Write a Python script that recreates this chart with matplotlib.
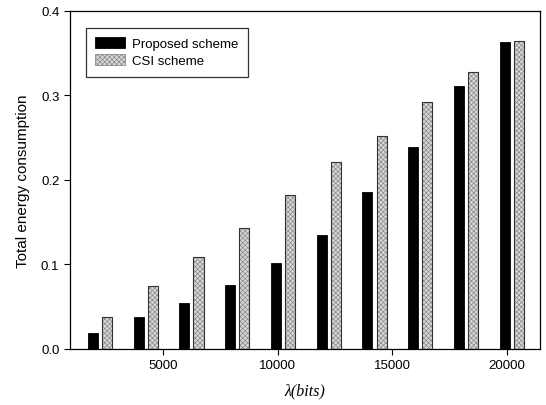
import matplotlib
matplotlib.use("Agg")
import matplotlib.pyplot as plt
import numpy as np

plt.rcParams['font.family'] = ['Liberation Sans', 'DejaVu Sans']
plt.rcParams['hatch.linewidth'] = 0.5

lam = [2000, 4000, 6000, 8000, 10000, 12000, 14000, 16000, 18000, 20000]
proposed = [0.0185, 0.0374, 0.0547, 0.0755, 0.1019, 0.1349, 0.1856, 0.2391, 0.3115, 0.3626]
csi = [0.0374, 0.0743, 0.1090, 0.1432, 0.1817, 0.2206, 0.2521, 0.2926, 0.3272, 0.3638]
series_names = ["Proposed scheme", "CSI scheme"]
xticks = [5000, 10000, 15000, 20000]
yticks = [0.0, 0.1, 0.2, 0.3, 0.4]

fig = plt.figure(figsize=(5.46, 4.06), dpi=100)
ax = fig.add_axes([0.128, 0.138, 0.861, 0.833])

x = np.array(lam, dtype=float)
w = 440
ax.bar(x - 80, proposed, width=w, color='black', edgecolor='black', linewidth=0.6,
       label=series_names[0])
ax.bar(x + 540, csi, width=w, color='#d8d8d8', edgecolor='#8a8a8a', hatch='xxxxxxx',
       linewidth=0.6, label=series_names[1])
ax.bar(x + 540, csi, width=w, fill=False, edgecolor='#333333', linewidth=0.8)

ax.set_xlim(920, 21460)
ax.set_ylim(0, 0.4)
ax.set_xticks(xticks)
ax.set_xticklabels([str(t) for t in xticks], fontsize=9.5)
ax.set_yticks(yticks)
ax.set_yticklabels([f"{t:.1f}" for t in yticks], fontsize=9.5)
ax.tick_params(direction='out', length=4, width=0.8)
for s in ax.spines.values():
    s.set_linewidth(0.9)

ax.set_ylabel("Total energy consumption", fontsize=11, labelpad=8)
ax.set_xlabel("λ(bits)", fontsize=11.5, family=['Liberation Serif', 'DejaVu Serif'],
              fontstyle='italic', labelpad=8)

leg = ax.legend(loc='upper left', bbox_to_anchor=(0.02, 0.968), fontsize=9.5,
                frameon=True, fancybox=False, edgecolor='black',
                handlelength=2.3, handleheight=0.9, borderpad=0.7,
                labelspacing=0.3, handletextpad=0.5)
leg.get_frame().set_linewidth(0.9)

fig.savefig("out.png", dpi=100)
